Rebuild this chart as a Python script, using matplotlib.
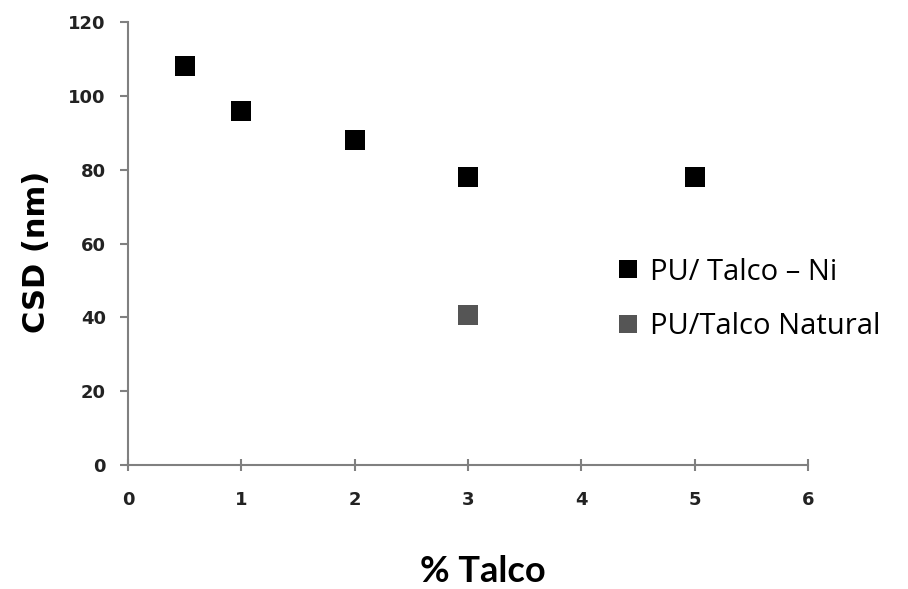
import matplotlib.pyplot as plt
from matplotlib.lines import Line2D

# Data
talco_ni_x = [0.5, 1, 2, 3, 5]
talco_ni_csd = [108, 96, 88, 78, 78]
natural_x = [3]
natural_csd = [40.7]

labels = ["PU/ Talco \u2013 Ni", "PU/Talco Natural"]
colors = ["#000000", "#555555"]

fig = plt.figure(figsize=(9.08, 5.89), dpi=100)
ax = fig.add_axes([0.141, 0.2105, 0.749, 0.752])

ax.scatter(talco_ni_x, talco_ni_csd, marker="s", s=210, color=colors[0], linewidths=0, zorder=3)
ax.scatter(natural_x, natural_csd, marker="s", s=210, color=colors[1], linewidths=0, zorder=3)

ax.set_xlim(0, 6)
ax.set_ylim(0, 120)
ax.set_xticks(range(0, 7))
ax.set_yticks(range(0, 121, 20))

for side in ["top", "right"]:
    ax.spines[side].set_visible(False)
for side in ["left", "bottom"]:
    ax.spines[side].set_color("#808080")
    ax.spines[side].set_linewidth(1.5)

ax.tick_params(axis="x", direction="inout", length=9, width=1.5, color="#808080", pad=14)
ax.tick_params(axis="y", direction="out", length=6, width=1.5, color="#808080", pad=10)
for lbl in ax.get_xticklabels() + ax.get_yticklabels():
    lbl.set_fontweight("bold")
    lbl.set_fontsize(13)
    lbl.set_color("#222222")

fig.text(0.04, 0.572, "CSD (nm)", rotation=90, ha="center", va="center",
         fontsize=22, fontweight="bold")
fig.text(0.532, 0.03, "% Talco", ha="center", va="center",
         fontsize=26, fontweight="bold", family="Lato")

handles = [Line2D([], [], marker="s", linestyle="none", markersize=13.5,
                  color=c, markeredgewidth=0) for c in colors]
ax.legend(handles, labels, loc="center left", bbox_to_anchor=(0.648, 0.492),
          bbox_transform=fig.transFigure, frameon=False, handletextpad=0.3,
          handlelength=0.9, labelspacing=0.86,
          prop={"family": "Open Sans", "size": 21})

fig.savefig("out.png", dpi=100)
